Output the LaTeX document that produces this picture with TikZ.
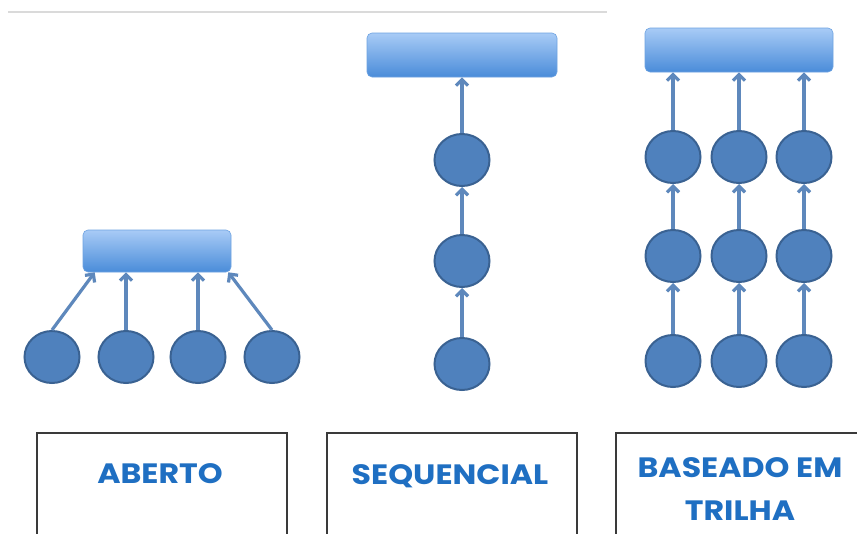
\documentclass[tikz,border=0pt]{standalone}
\usepackage{fontspec}
\newfontfamily\labfont{Poppins}[FakeStretch=1.13]
\usetikzlibrary{arrows.meta,shapes.geometric}
\definecolor{dotfill}{HTML}{4F81BD}
\definecolor{dotline}{HTML}{3A6292}
\definecolor{bartop}{HTML}{A8CBF6}
\definecolor{barbot}{HTML}{4A8CD9}
\definecolor{linkcol}{HTML}{5E88BC}
\definecolor{labcol}{HTML}{1F6FC2}
\definecolor{framecol}{HTML}{3A3A3A}
\definecolor{rulecol}{HTML}{DADADA}
\tikzset{
  dot/.style={ellipse, draw=dotline, line width=2pt, fill=dotfill,
              minimum width=55pt, minimum height=52pt, inner sep=0pt},
  bar/.style={rectangle, rounded corners=5pt, top color=bartop, bottom color=barbot,
              draw=barbot!80!white, line width=0.6pt, inner sep=0pt},
  link/.style={draw=linkcol, line width=3.2pt,
               -{Straight Barb[length=6pt,width=12pt]}},
  frame/.style={rectangle, draw=framecol, line width=1.6pt, fill=white,
                anchor=north west, minimum height=130pt, inner sep=0pt},
  lab/.style={text=labcol, font=\labfont\bfseries\fontsize{28}{28}\selectfont,
              anchor=base, inner sep=0pt}
}
\begin{document}
\begin{tikzpicture}[x=1pt,y=-1pt]
\useasboundingbox (0,0) rectangle (857,533);
\clip (0,0) rectangle (857,533);
\fill[white] (0,0) rectangle (857,533);

% thin rule along the top
\draw[rulecol, line width=1.4pt] (8,12) -- (607,12);

% ---- ABERTO: four nodes pointing to one bar
\node[bar, minimum width=148pt, minimum height=42pt] (ta) at (157,251) {};
\node[dot] (a1) at (52,357) {};
\node[dot] (a2) at (126,357) {};
\node[dot] (a3) at (198,357) {};
\node[dot] (a4) at (272,357) {};
\draw[link] (a1.north) -- ([xshift=12pt]ta.south west);
\draw[link] (a2.north) -- (a2.north |- ta.south);
\draw[link] (a3.north) -- (a3.north |- ta.south);
\draw[link] (a4.north) -- ([xshift=-3pt]ta.south east);

% ---- SEQUENCIAL: one chain of nodes
\node[bar, minimum width=190pt, minimum height=44pt] (tb) at (462,55) {};
\node[dot] (b1) at (462,160) {};
\node[dot] (b2) at (462,261) {};
\node[dot] (b3) at (462,364) {};
\draw[link] (b1.north) -- (b1.north |- tb.south);
\draw[link] (b2.north) -- (b1.south);
\draw[link] (b3.north) -- (b2.south);

% ---- BASEADO EM TRILHA: three parallel chains
\node[bar, minimum width=188pt, minimum height=44pt] (tc) at (739,50) {};
\foreach \c/\x in {1/673,2/739,3/804}{
  \node[dot] (c\c1) at (\x,157) {};
  \node[dot] (c\c2) at (\x,256) {};
  \node[dot] (c\c3) at (\x,361) {};
  \draw[link] (c\c1.north) -- (c\c1.north |- tc.south);
  \draw[link] (c\c2.north) -- (c\c1.south);
  \draw[link] (c\c3.north) -- (c\c2.south);
}

% ---- label frames
\node[frame, minimum width=250pt] (fa) at (36,432) {};
\node[frame, minimum width=250pt] (fb) at (326,432) {};
\node[frame, minimum width=262pt] (fc) at (615,432) {};
\node[lab] (la) at (160,483) {ABERTO};
\node[lab] (lb) at (450,484) {SEQUENCIAL};
\node[lab] (lc1) at (740,477) {BASEADO EM};
\node[lab] (lc2) at (740,520) {TRILHA};
\end{tikzpicture}
\end{document}
